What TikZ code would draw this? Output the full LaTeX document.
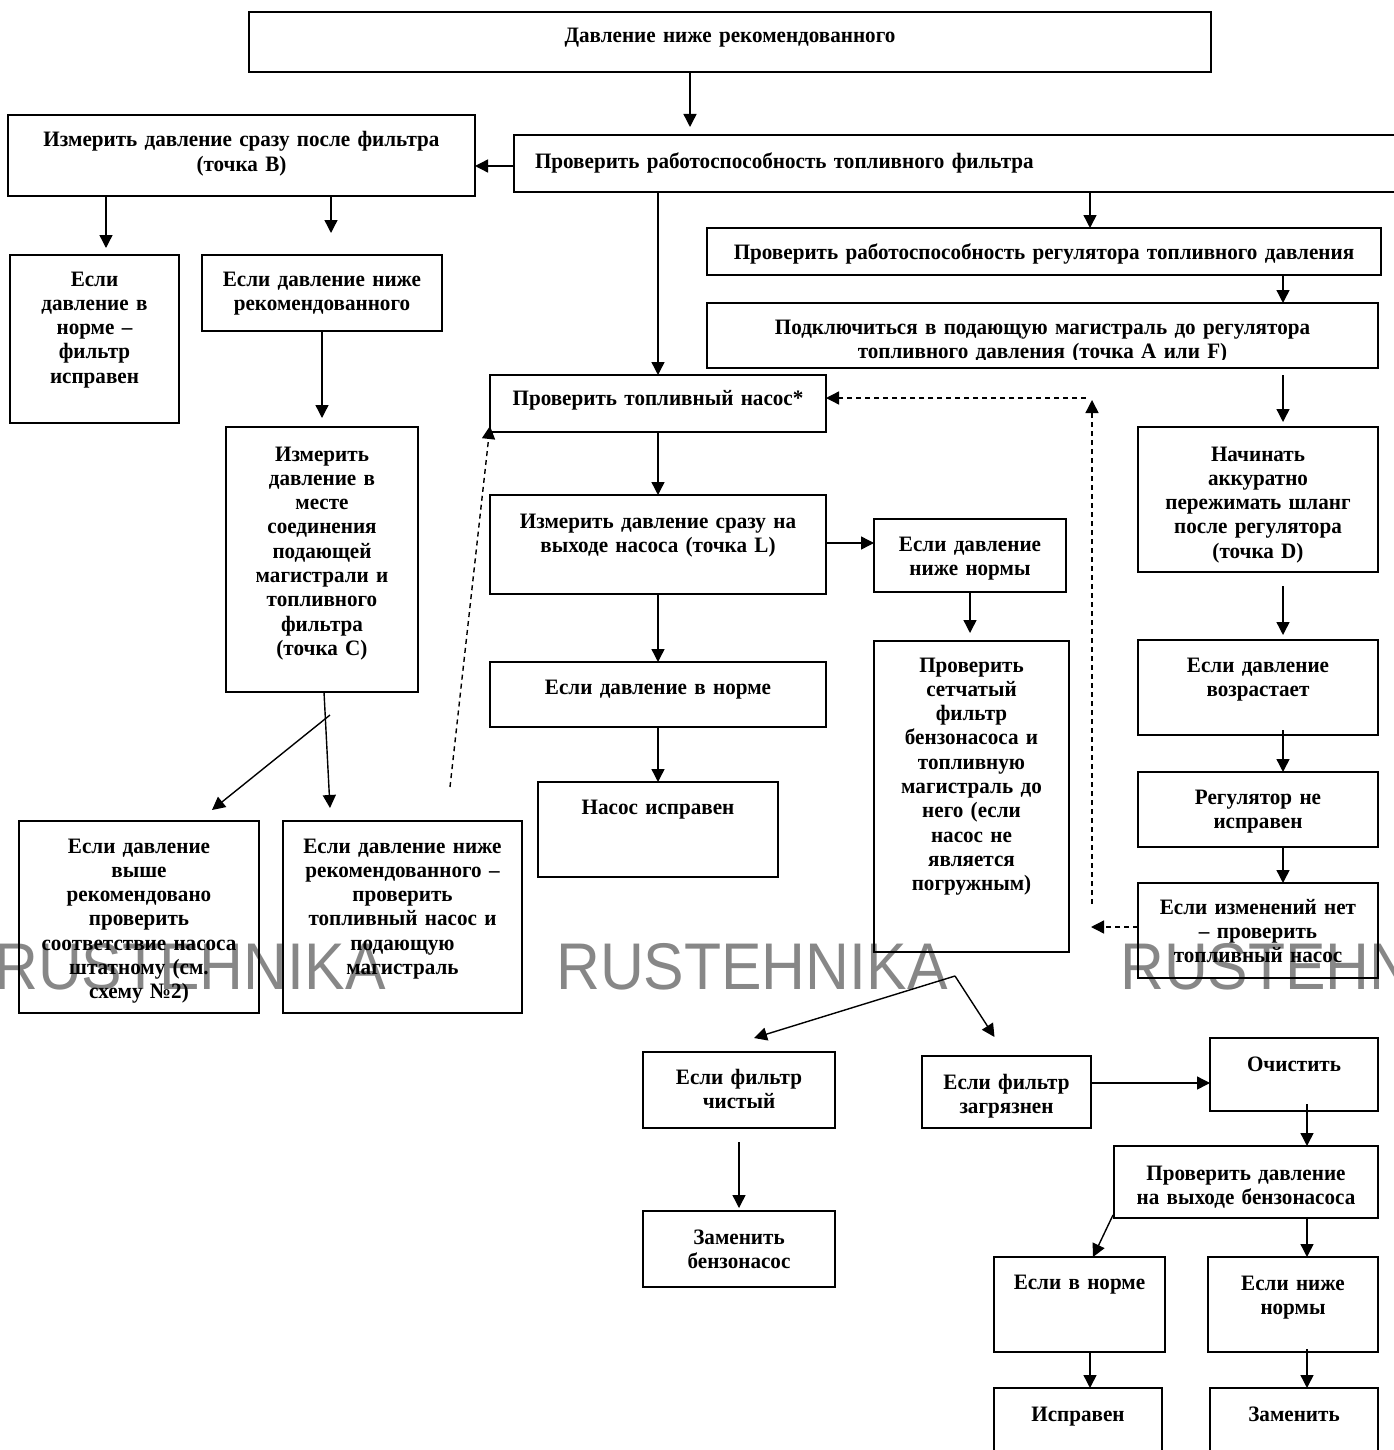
\documentclass[tikz,border=0pt]{standalone}
\usepackage{fontspec}
\setmainfont{Liberation Serif}[FakeStretch=0.96]
\newfontfamily\wmfont{Liberation Sans}[FakeStretch=0.92]
\usetikzlibrary{arrows.meta,calc}
\tikzset{
  bx/.style={draw, line width=2pt, inner xsep=0pt, inner ysep=0pt, outer sep=0pt, align=center, anchor=north west, font=\fontsize{22}{24.3}\selectfont\bfseries},
  arr/.style={line width=1.4pt, -{Triangle[length=13pt,width=13pt]}},
  darr/.style={arr, dash pattern=on 5pt off 4pt},
  wm/.style={text={rgb,255:red,135;green,135;blue,135}, font=\wmfont\fontsize{66}{70}\selectfont, inner sep=0pt, anchor=base west},
}
\newcommand\bx[7]{\edef\bxdp{\the\numexpr#5-#6\relax}\node[bx, text width=#4pt, text height=#6pt, text depth=\bxdp pt] (#1) at (#2,#3) {#7};}
\begin{document}
\begin{tikzpicture}[x=1pt,y=-1pt]
\fill[white] (0,0) rectangle (1393,1450);
\useasboundingbox (0,0) rectangle (1393,1450);
% watermark
\node[wm] (wm1) at (-6,989) {RUSTEHNIKA};
\node[wm] (wm2) at (556,989) {RUSTEHNIKA};
\node[wm] (wm3) at (1120,989) {RUSTEHNIKA};
% boxes
\bx{top}{249}{12}{962}{60}{31}{Давление ниже рекомендованного}
\bx{b2}{8}{115}{467}{81}{32}{Измерить давление сразу после фильтра\\(точка B)}
\node[bx, align=left, inner xsep=21pt, text width=848pt, text height=34pt, text depth=23pt] (b3) at (514,135) {Проверить работоспособность топливного фильтра};
\bx{b4}{10}{255}{169}{168}{31}{Если\\давление в\\норме –\\фильтр\\исправен}
\bx{b5}{202}{255}{240}{76}{31}{Если давление ниже\\рекомендованного}
\bx{b6}{226}{427}{192}{265}{34}{Измерить\\давление в\\месте\\соединения\\подающей\\магистрали и\\топливного\\фильтра\\(точка С)}
\bx{b7}{490}{375}{336}{57}{30}{Проверить топливный насос*}
\bx{b8}{707}{228}{674}{47}{31}{Проверить работоспособность регулятора топливного давления\hspace*{14pt}}
\bx{b9}{707}{303}{671}{65}{31}{Подключиться в подающую магистраль до регулятора\\топливного давления (точка А или F)}
\fill[white] ($(b9.south west)+(1.5,-8)$) rectangle ($(b9.south east)+(-1.5,-1.2)$);
\bx{b10}{1138}{427}{240}{145}{34}{Начинать\\аккуратно\\пережимать шланг\\после регулятора\\(точка D)}
\bx{b11}{490}{495}{336}{99}{33}{Измерить давление сразу на\\выходе насоса (точка L)}
\bx{b12}{874}{519}{192}{73}{32}{Если давление\\ниже нормы}
\bx{b13}{490}{662}{336}{65}{32}{Если давление в норме}
\bx{b14}{538}{782}{240}{95}{32}{Насос исправен}
\bx{b15}{874}{641}{195}{311}{31}{Проверить\\сетчатый\\фильтр\\бензонасоса и\\топливную\\магистраль до\\него (если\\насос не\\является\\погружным)}
\bx{b16}{1138}{640}{240}{95}{32}{Если давление\\возрастает}
\bx{b17}{1138}{772}{240}{75}{32}{Регулятор не\\исправен}
\bx{b18}{1138}{883}{240}{95}{31}{Если изменений нет\\– проверить\\топливный насос}
\bx{b19}{19}{821}{240}{192}{32}{Если давление\\выше\\рекомендовано\\проверить\\соответствие насоса\\штатному (см.\\схему №2)}
\bx{b20}{283}{821}{239}{192}{32}{Если давление ниже\\рекомендованного –\\проверить\\топливный насос и\\подающую\\магистраль}
\bx{b21}{643}{1052}{192}{76}{32}{Если фильтр\\чистый}
\bx{b22}{922}{1056}{169}{72}{33}{Если фильтр\\загрязнен}
\bx{b23}{1210}{1038}{168}{73}{33}{Очистить}
\bx{b24}{643}{1211}{192}{76}{33}{Заменить\\бензонасос}
\bx{b25}{1114}{1146}{264}{72}{34}{Проверить давление\\на выходе бензонасоса}
\bx{b26}{994}{1257}{171}{95}{32}{Если в норме}
\bx{b27}{1208}{1257}{170}{95}{33}{Если ниже\\нормы}
\bx{b28}{994}{1388}{168}{80}{33}{Исправен}
\bx{b29}{1210}{1388}{168}{80}{33}{Заменить}
% connectors
\draw[arr] (top.south -| 690,0) -- ($(b3.north -| 690,0)+(0,-8)$);
\draw[arr] (b3.west |- 0,166) -- (b2.east |- 0,166);
\draw[arr] (b2.south -| 106,0) -- ($(b4.north -| 106,0)+(0,-7)$);
\draw[arr] (b2.south -| 331,0) -- ($(b5.north -| 331,0)+(0,-22)$);
\draw[arr] (b5.south -| 322,0) -- ($(b6.north -| 322,0)+(0,-9)$);
\draw[arr] (b6.south -| 324,0) -- ($(b20.north west)+(47,-13)$);
\coordinate (fork6) at ($(b6.south -| 330,0)+(0,23)$);
\draw[arr] (fork6) -- ($(b19.north west)+(193,-11)$);
\draw[arr] (b3.south -| 658,0) -- (b7.north -| 658,0);
\draw[arr] (b3.south -| 1090,0) -- (b8.north -| 1090,0);
\draw[arr] (b8.south -| 1283,0) -- (b9.north -| 1283,0);
\draw[arr] ($(b9.south -| 1283,0)+(0,7)$) -- ($(b10.north -| 1283,0)+(0,-5)$);
\draw[arr] (b7.south -| 658,0) -- (b11.north -| 658,0);
\draw[arr] (b11.east |- 0,543) -- (b12.west |- 0,543);
\draw[arr] (b11.south -| 658,0) -- (b13.north -| 658,0);
\draw[arr] (b13.south -| 658,0) -- (b14.north -| 658,0);
\draw[arr] (b12.south -| 970,0) -- ($(b15.north -| 970,0)+(0,-8)$);
\draw[arr] ($(b10.south -| 1283,0)+(0,14)$) -- ($(b16.north -| 1283,0)+(0,-5)$);
\draw[arr] ($(b16.south -| 1283,0)+(0,-5)$) -- (b17.north -| 1283,0);
\draw[arr] (b17.south -| 1283,0) -- (b18.north -| 1283,0);
% dashed feedback
\draw[darr] (b18.west |- 0,927) -- ($(b18.west |- 0,927)+(-47,0)$);
\coordinate (dvb) at ($(b18.west |- 0,904)+(-46,0)$);
\coordinate (dvt) at ($(b7.east |- 0,400)+(266,0)$);
\draw[darr] (dvb) -- (dvt);
\coordinate (dh) at ($(b7.east |- 0,398)+(260,0)$);
\draw[darr] (dh) -- (b7.east |- dh);
\coordinate (dl) at ($(b7.south west)+(-40,355)$);
\draw[darr] (dl) -- ($(b7.south west)+(0,-6)$);
% split below sieve filter box
\coordinate (vp) at ($(b15.south -| 955,0)+(0,24)$);
\draw[arr] (vp) -- ($(b21.north)+(15,-14)$);
\draw[arr] (vp) -- ($(b22.north)+(-12,-19)$);
\draw[arr] ($(b21.south)+(0,14)$) -- ($(b24.north)+(0,-3)$);
\draw[arr] (b22.east |- 0,1083) -- (b23.west |- 0,1083);
\draw[arr] ($(b23.south -| 1307,0)+(0,-7)$) -- (b25.north -| 1307,0);
\draw[arr] ($(b25.south west)+(-1,-3)$) -- ($(b26.north west)+(99,0)$);
\draw[arr] (b25.south -| 1307,0) -- (b27.north -| 1307,0);
\draw[arr] (b26.south -| 1090,0) -- (b28.north -| 1090,0);
\draw[arr] ($(b27.south -| 1307,0)+(0,-3)$) -- (b29.north -| 1307,0);
\end{tikzpicture}
\end{document}
